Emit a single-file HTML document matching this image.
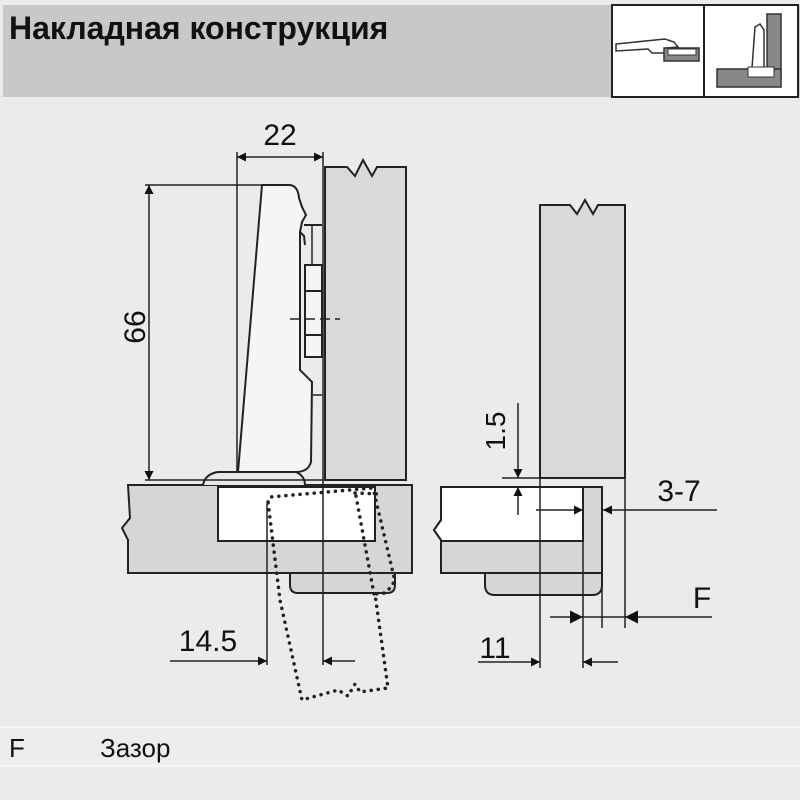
<!DOCTYPE html>
<html><head><meta charset="utf-8"><style>
html,body{margin:0;padding:0;background:#ebebeb;}
svg{display:block}
text{font-family:"Liberation Sans","Noto Sans CJK SC",sans-serif;fill:#111}
</style></head><body>
<svg width="800" height="800" viewBox="0 0 800 800" xmlns="http://www.w3.org/2000/svg">
<defs>
<marker id="a" viewBox="0 0 10 10" refX="10" refY="5" markerWidth="13" markerHeight="9" orient="auto-start-reverse" markerUnits="userSpaceOnUse"><path d="M0,0 L10,5 L0,10 z" fill="#111"/></marker>
<marker id="b" viewBox="0 0 10 10" refX="10" refY="5" markerWidth="20" markerHeight="13" orient="auto-start-reverse" markerUnits="userSpaceOnUse"><path d="M0,0 L10,5 L0,10 z" fill="#111"/></marker>
</defs>
<rect width="800" height="800" fill="#ebebeb"/>
<rect x="3" y="5" width="797" height="92" fill="#c8c8c8"/>
<text x="9" y="39" font-size="32" font-weight="bold">Накладная конструкция</text>
<!-- header icons -->
<rect x="612" y="5" width="186" height="92" fill="#fff" stroke="#222" stroke-width="2"/>
<line x1="704" y1="5" x2="704" y2="97" stroke="#222" stroke-width="2"/>
<path d="M616,44 L665,39 L674,42 L678,47 L667,48 L664,53 L652,53 L648,49 L616,51 z" fill="#fff" stroke="#333" stroke-width="1.5"/>
<rect x="664" y="48" width="35" height="13" fill="#888" stroke="#333" stroke-width="1.5"/>
<rect x="668" y="49" width="28" height="6" fill="#fff" stroke="#333"/>
<rect x="767" y="14" width="14" height="64" fill="#888" stroke="#333" stroke-width="1.5"/>
<rect x="717" y="69" width="64" height="18" fill="#888" stroke="#333" stroke-width="1.5"/>
<path d="M755,27 L760,24 L764,30 L764,68 L752,68 z" fill="#fff" stroke="#333" stroke-width="1.5"/>
<rect x="748" y="67" width="26" height="10" fill="#fff" stroke="#333"/>

<g stroke="#222" stroke-width="2" fill="none">
<!-- LEFT VIEW -->
<path d="M325,480 L325,167 L347,167 L355,176 L363,160 L372,176 L377,167 L406,167 L406,480 z" fill="#d9d9d9"/>
<path d="M128,485 L412,485 L412,573 L128,573 L128,540 L122,528 L130,518 L128,485 z" fill="#d6d6d6"/>
<rect x="218" y="487" width="157" height="54" fill="#fff"/>
<path d="M290,573 L395,573 L395,585 Q395,593 387,593 L298,593 Q290,593 290,585 z" fill="#d6d6d6"/>
<path d="M203,485 Q205,474 218,472 L296,472 Q305,476 305,485" fill="#e8e8e8"/>
<path d="M238,472 L262,185 L290,185 Q298,186 299,198 L302,207 L306,215 L302,222 L300,232 L300,370 L312,382 L311,462 Q308,472 296,472 z" fill="#f5f5f5"/>
<path d="M300,232 L304,236 L305,245" />
<rect x="305" y="265" width="17" height="26" fill="#f5f5f5"/>
<rect x="305" y="291" width="17" height="44" fill="#f5f5f5"/>
<rect x="305" y="335" width="17" height="22" fill="#f5f5f5"/>
<line x1="304" y1="225" x2="322" y2="225"/>
<line x1="312" y1="225" x2="312" y2="265" stroke-width="1.5"/>
<line x1="313" y1="395" x2="322" y2="395" stroke-width="1.5"/>
<line x1="290" y1="319" x2="340" y2="319" stroke-width="1.5" stroke-dasharray="10,5"/>
<line x1="237" y1="152" x2="237" y2="472" stroke-width="1.5"/>
<line x1="323" y1="152" x2="323" y2="665" stroke-width="1.5"/>
<line x1="237" y1="157" x2="323" y2="157" stroke-width="1.5" marker-start="url(#a)" marker-end="url(#a)"/>
<line x1="145" y1="185" x2="265" y2="185" stroke-width="1.5"/>
<line x1="145" y1="480" x2="325" y2="480" stroke-width="1.5"/>
<line x1="149" y1="185" x2="149" y2="480" stroke-width="1.5" marker-start="url(#a)" marker-end="url(#a)"/>
<line x1="267" y1="504" x2="267" y2="665" stroke-width="1.5"/>
<line x1="170" y1="661" x2="267" y2="661" stroke-width="1.5" marker-end="url(#a)"/>
<line x1="355" y1="661" x2="323" y2="661" stroke-width="1.5" marker-end="url(#a)"/>
<path d="M268,502 L270,497 L372,488 L374,492 L394,577 L393,585 L385,593 L375,594 L388,688 L360,692 L355,684 L348,696 L338,690 L302,700 L280,600 z" stroke-width="3.5" stroke-dasharray="0.1,7" stroke-linecap="round"/>
<line x1="355" y1="493" x2="380" y2="494" stroke-width="3.5" stroke-dasharray="0.1,7" stroke-linecap="round"/>
<line x1="356" y1="496" x2="374" y2="594" stroke-width="3.5" stroke-dasharray="0.1,7" stroke-linecap="round"/>

<!-- RIGHT VIEW -->
<path d="M540,478 L540,205 L570,205 L577,214 L585,200 L593,214 L598,205 L625,205 L625,478 z" fill="#d9d9d9"/>
<path d="M441,487 L602,487 L602,573 L441,573 L441,540 L434,530 L441,520 z" fill="#d6d6d6"/>
<path d="M441,487 L583,487 L583,541 L441,541 L441,540 L434,530 L441,520 z" fill="#fff"/>
<path d="M485,573 L602,573 L602,585 Q602,595 592,595 L495,595 Q485,595 485,585 z" fill="#d6d6d6"/>
<line x1="540" y1="478" x2="540" y2="668" stroke-width="1.5"/>
<line x1="583" y1="541" x2="583" y2="668" stroke-width="1.5"/>
<line x1="602" y1="573" x2="602" y2="628" stroke-width="1.5"/>
<line x1="625" y1="478" x2="625" y2="628" stroke-width="1.5"/>
<line x1="502" y1="478" x2="540" y2="478" stroke-width="1.5"/>
<line x1="518" y1="403" x2="518" y2="478" stroke-width="1.5" marker-end="url(#a)"/>
<line x1="518" y1="515" x2="518" y2="487" stroke-width="1.5" marker-end="url(#a)"/>
<line x1="536" y1="510" x2="583" y2="510" stroke-width="1.5" marker-end="url(#a)"/>
<line x1="717" y1="510" x2="603" y2="510" stroke-width="1.5" marker-end="url(#a)"/>
<line x1="550" y1="617" x2="583" y2="617" stroke-width="1.5" marker-end="url(#b)"/>
<line x1="712" y1="617" x2="625" y2="617" stroke-width="1.5" marker-end="url(#b)"/>
<line x1="583" y1="617" x2="625" y2="617" stroke-width="1.5"/>
<line x1="478" y1="662" x2="540" y2="662" stroke-width="1.5" marker-end="url(#a)"/>
<line x1="618" y1="662" x2="583" y2="662" stroke-width="1.5" marker-end="url(#a)"/>
</g>

<text x="280" y="145" font-size="30" text-anchor="middle">22</text>
<text transform="translate(145,327) rotate(-90)" font-size="30" text-anchor="middle">66</text>
<text x="208" y="651" font-size="30" text-anchor="middle">14.5</text>
<text transform="translate(505,431) rotate(-90)" font-size="28" text-anchor="middle">1.5</text>
<text x="679" y="501" font-size="30" text-anchor="middle">3-7</text>
<text x="702" y="608" font-size="30" text-anchor="middle">F</text>
<text x="495" y="658" font-size="30" text-anchor="middle">11</text>

<rect x="0" y="726" width="800" height="2" fill="#f6f6f6"/>
<rect x="0" y="728" width="800" height="37" fill="#ececec"/>
<rect x="92" y="728" width="708" height="37" fill="#ededed"/>
<rect x="0" y="765" width="800" height="2" fill="#f6f6f6"/>
<text x="9" y="757" font-size="26">F</text>
<text x="100" y="757" font-size="26">Зазор</text>
</svg>
</body></html>
